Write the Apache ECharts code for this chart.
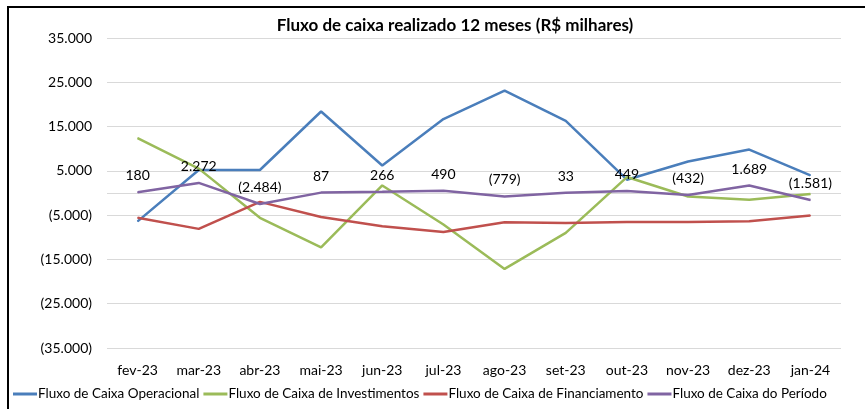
<!DOCTYPE html>
<html><head><meta charset="utf-8">
<script src="https://cdn.jsdelivr.net/npm/echarts@6/dist/echarts.min.js"></script>
<style>html,body{margin:0;padding:0;background:#fff}#c{width:865px;height:409px}</style>
</head><body><div id="c"></div>
<script>
const categories = ['fev-23','mar-23','abr-23','mai-23','jun-23','jul-23','ago-23','set-23','out-23','nov-23','dez-23','jan-24'];
const operacional = [-6400, 5200, 5200, 18400, 6200, 16700, 23100, 16300, 3000, 7100, 9800, 4000];
const investimentos = [12400, 5500, -5600, -12300, 1700, -7100, -17150, -9000, 3600, -800, -1500, -200];
const financiamento = [-5600, -8100, -2000, -5400, -7500, -8800, -6600, -6800, -6550, -6550, -6400, -5100];
const periodo = [180, 2272, -2484, 87, 266, 490, -779, 33, 449, -432, 1689, -1581];
const seriesNames = ['Fluxo de Caixa Operacional','Fluxo de Caixa de Investimentos','Fluxo de Caixa de Financiamento','Fluxo de Caixa do Período'];
const colors = ['#4A7EBB','#9BBB59','#C0504D','#8064A2'];
const FONT = 'Lato';

function fmt(v){
  const s = Math.abs(v).toString().replace(/\B(?=(\d{3})+(?!\d))/g,'.');
  return v < 0 ? '(' + s + ')' : s;
}

const chart = echarts.init(document.getElementById('c'), null, {renderer:'canvas'});
function line(name, data, color, extra){
  return Object.assign({
    name, type:'line', data, symbol:'circle', symbolSize:1, showSymbol:true, smooth:false,
    lineStyle:{color, width:2.5}, itemStyle:{color}, z:2
  }, extra||{});
}
chart.setOption({
  animation:false,
  color: colors,
  title:{text:'Fluxo de caixa realizado 12 meses (R$ milhares)', left:450, top:12, textAlign:'center',
    textStyle:{fontFamily:FONT, fontWeight:'bold', fontSize:17, color:'#000'}},
  grid:{left:107, right:24, top:38, bottom:61},
  legend:{bottom:3, left:8, width:860, itemWidth:24, itemHeight:3, itemGap:4,
    icon:'rect',
    textStyle:{fontFamily:FONT, fontSize:13.5, color:'#000', padding:[0,0,0,-4]},
    data:seriesNames},
  xAxis:{type:'category', data:categories, boundaryGap:true,
    axisLine:{show:false}, axisTick:{show:false},
    axisLabel:{fontFamily:FONT, fontSize:14, color:'#000', margin:15}},
  yAxis:{type:'value', min:-35000, max:35000, interval:10000,
    axisLine:{show:false}, axisTick:{show:false},
    splitLine:{lineStyle:{color:'#D9D9D9', width:1}},
    axisLabel:{fontFamily:FONT, fontSize:14, color:'#000', margin:15, formatter:fmt}},
  graphic:[{type:'rect', shape:{x:8, y:7, width:870, height:420}, style:{fill:'none', stroke:'#000', lineWidth:2}, silent:true, z:-1}],
  series:[
    line(seriesNames[0], operacional, colors[0], {
      markLine:{silent:true, symbol:'none', label:{show:false}, lineStyle:{color:'#D9D9D9', width:1, type:'solid'}, data:[{yAxis:0}], z:1}
    }),
    line(seriesNames[1], investimentos, colors[1]),
    line(seriesNames[2], financiamento, colors[2]),
    line(seriesNames[3], periodo, colors[3], {
      label:{show:true, position:'top', distance:9, fontFamily:FONT, fontSize:14, color:'#000', formatter:p=>fmt(p.value)},
      labelLayout:{hideOverlap:false}
    })
  ]
});
</script></body></html>
